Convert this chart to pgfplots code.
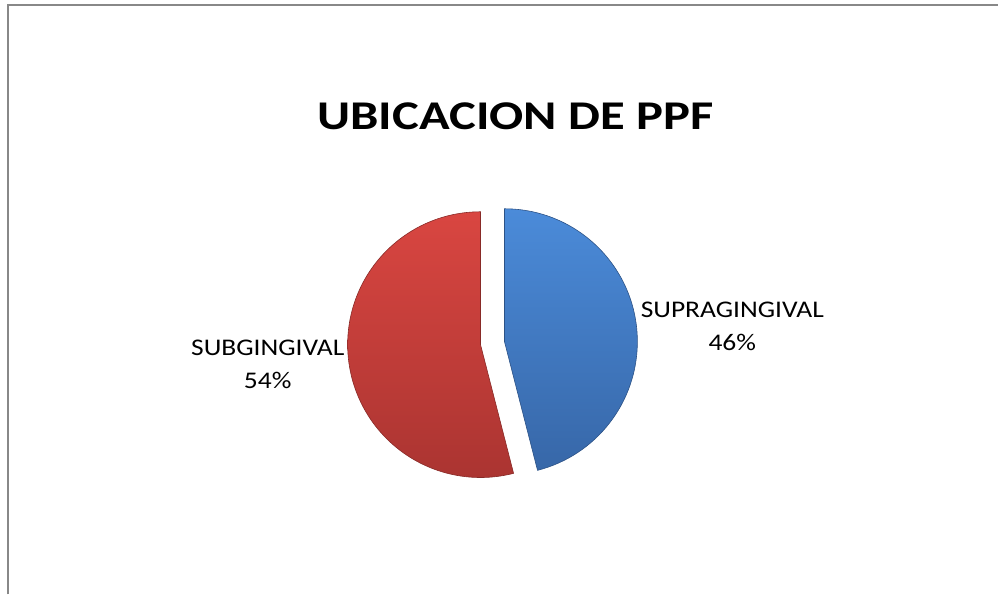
\documentclass[border=0pt]{standalone}
\usepackage{pgfplots}
\pgfplotsset{compat=1.18}
\usepackage{pgfplotstable}
\usepackage{fontspec}
\setmainfont{Carlito}

\pgfplotstableread{
label value
SUPRAGINGIVAL 46
SUBGINGIVAL 54
}\piedata

\definecolor{bluetop}{HTML}{4B8BD9}
\definecolor{bluebot}{HTML}{3767A8}
\definecolor{redtop}{HTML}{D94641}
\definecolor{redbot}{HTML}{AA3431}
\definecolor{frame}{HTML}{888888}

\begin{document}
\begin{tikzpicture}
\begin{axis}[
  x=1bp, y=1bp,
  xmin=0, xmax=999, ymin=0, ymax=595,
  hide axis,
  clip=false,
  /pgf/number format/assume math mode=true,
]
\pgfplotstablegetelem{0}{value}\of\piedata \let\vsup=\pgfplotsretval
\pgfplotstablegetelem{1}{value}\of\piedata \let\vsub=\pgfplotsretval
\pgfmathsetmacro{\endsup}{90-3.6*\vsup}
\pgfmathsetmacro{\endsub}{90+3.6*\vsub}

\path (axis cs:0,0) rectangle (axis cs:999,595);
\draw[frame, line width=2bp] (axis cs:8.5,0) -- (axis cs:8.5,589.5) -- (axis cs:999,589.5);

% blue slice (exploded to the right)
\shade[top color=bluetop, bottom color=bluebot, draw=bluebot!80!black, line width=0.6bp]
  (axis cs:505,253) -- ++(90:133bp) arc[start angle=90, end angle=\endsup, radius=133bp] -- cycle;
% red slice (exploded to the left)
\shade[top color=redtop, bottom color=redbot, draw=redbot!80!black, line width=0.6bp]
  (axis cs:481,250) -- ++(90:133bp) arc[start angle=90, end angle=\endsub, radius=133bp] -- cycle;

\node[font=\fontsize{41}{44}\selectfont\bfseries, anchor=base] at (axis cs:516,465)
  {\scalebox{1.24}[1]{UBICACION DE PPF}};
\node[font=\fontsize{24}{33}\selectfont, align=center, anchor=base] at (axis cs:733,244)
  {\scalebox{1.15}[1]{SUPRAGINGIVAL}\\\scalebox{1.15}[1]{\vsup\%}};
\node[font=\fontsize{24}{33}\selectfont, align=center, anchor=base] at (axis cs:268,206)
  {\scalebox{1.15}[1]{SUBGINGIVAL}\\\scalebox{1.15}[1]{\vsub\%}};
\end{axis}
\end{tikzpicture}
\end{document}
